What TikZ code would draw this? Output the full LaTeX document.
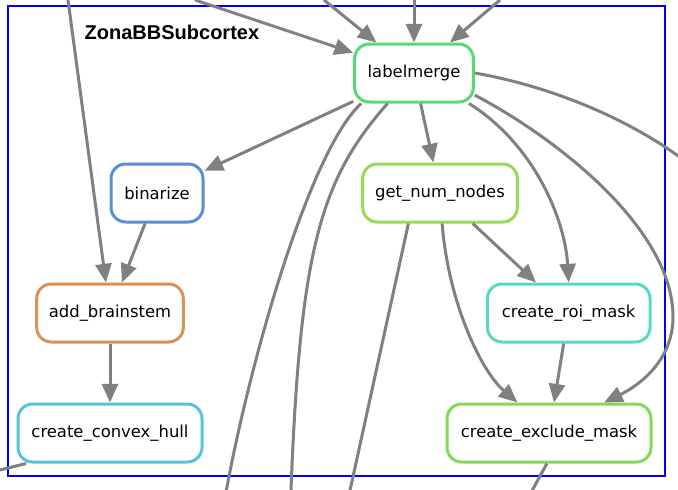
\documentclass[tikz,border=0pt]{standalone}
\usepackage{fontspec}
\setmainfont{DejaVu Sans}
\newfontfamily\clusterfont{Liberation Sans}
\usetikzlibrary{arrows.meta}

\definecolor{edgegray}{RGB}{128,128,128}
\definecolor{lmgreen}{RGB}{87,217,115}
\definecolor{binblue}{RGB}{87,141,217}
\definecolor{gnngreen}{RGB}{152,217,87}
\definecolor{aborange}{RGB}{217,145,87}
\definecolor{cchcyan}{RGB}{87,195,217}
\definecolor{roiteal}{RGB}{87,217,195}
\definecolor{cemgreen}{RGB}{130,217,87}

\begin{document}
\begin{tikzpicture}[x=0.75pt, y=-0.75pt,
    rule/.style={draw, line width=2.25pt, rounded corners=11pt, fill=white,
        minimum height=43.5pt, inner sep=0pt, font=\fontsize{12.3}{14}\selectfont},
    dep/.style={draw=edgegray, line width=2.25pt, -{Triangle[length=14pt, width=12pt]}},
    loose/.style={draw=edgegray, line width=2.25pt}]

    \useasboundingbox (0,0) rectangle (678,489);
    \clip (0,0) rectangle (678,489);

    % Declare the cluster
    \draw[blue, line width=2pt] (8,6) rectangle (665,476);
    \node[anchor=base west, font=\clusterfont\bfseries\fontsize{15}{18}\selectfont] at (80,39.5) (title) {ZonaBBSubcortex};

    % Declare the rules
    \node[rule, draw=lmgreen, minimum width=89pt] at (414,73) (LM) {labelmerge};
    \node[rule, draw=binblue, minimum width=69pt] at (157,193) (BIN) {binarize};
    \node[rule, draw=gnngreen, minimum width=116pt] at (440,193) (GNN) {get\_num\_nodes};
    \node[rule, draw=aborange, minimum width=110pt] at (110,313) (AB) {add\_brainstem};
    \node[rule, draw=roiteal, minimum width=122pt] at (568.7,313) (ROI) {create\_roi\_mask};
    \node[rule, draw=cchcyan, minimum width=138pt] at (110,433) (CCH) {create\_convex\_hull};
    \node[rule, draw=cemgreen, minimum width=153pt] at (549,433) (CEM) {create\_exclude\_mask};

    % Declare free ends
    \coordinate (inAB) at (68,0);
    \coordinate (inA) at (195,0);
    \coordinate (inB) at (324,0);
    \coordinate (inC) at (414,0);
    \coordinate (inD) at (500,0);
    \coordinate (outA) at (225.5,495);
    \coordinate (outB) at (290.8,495);
    \coordinate (outGNN) at (349,495);
    \coordinate (outLM) at (690,165);
    \coordinate (outCCH) at (0,470);
    \coordinate (outCEM) at (527,500);

    % Declare incoming edges
    \draw[dep] (inAB) -- (AB);
    \draw[dep] (inA) -- (LM);
    \draw[dep] (inB) -- (LM);
    \draw[dep] (inC) -- (LM);
    \draw[dep] (inD) -- (LM);

    % Declare edges
    \draw[dep] (LM) -- (BIN);
    \draw[dep] (LM) -- (GNN);
    \draw[dep] (BIN) -- (AB);
    \draw[dep] (AB) -- (CCH);
    \draw[dep] (GNN) -- (ROI);
    \draw[dep] (ROI) -- (CEM);
    \draw[dep] (GNN.-86) .. controls (448,300) and (480,370) .. (CEM.136);
    \draw[dep] (LM.-29) .. controls (535,145) and (565,220) .. (ROI.north);
    \draw[dep] (LM.-20) .. controls (560,140) and (673,230) .. (673,317)
        .. controls (673,360) and (640,385) .. (CEM.29);

    % Declare outgoing edges
    \draw[loose] (LM.-150) .. controls (310,150) and (250,360) .. (outA);
    \draw[loose] (LM.-131) .. controls (320,180) and (300,250) .. (outB);
    \draw[loose] (GNN.-136) -- (outGNN);
    \draw[loose] (LM.east) .. controls (560,88) and (640,125) .. (outLM);
    \draw[loose] (CCH.-160) -- (outCCH);
    \draw[loose] (CEM.-94) -- (outCEM);

\end{tikzpicture}
\end{document}
